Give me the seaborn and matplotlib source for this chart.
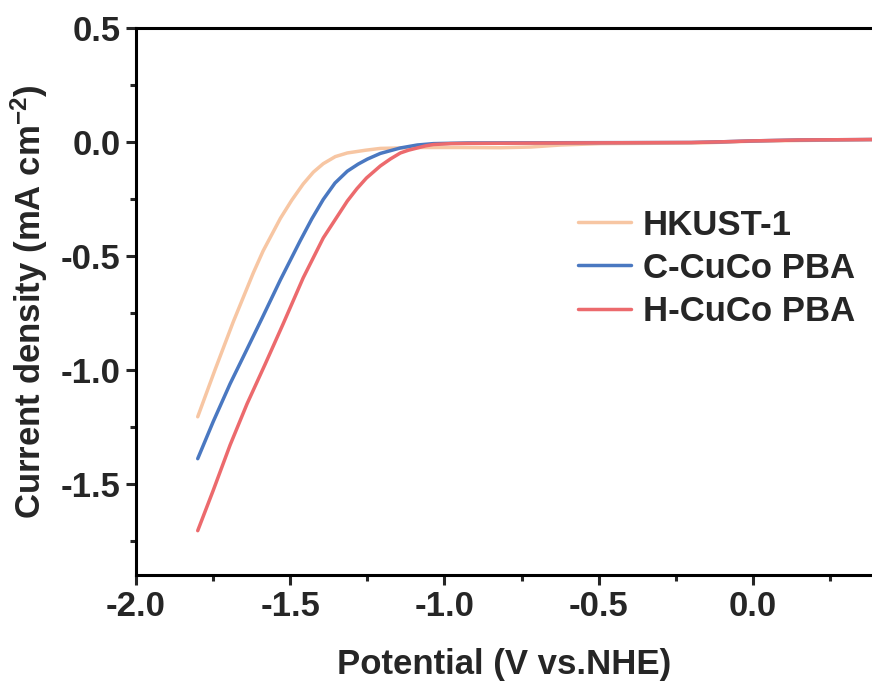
import matplotlib
matplotlib.use("Agg")
import matplotlib.pyplot as plt
from matplotlib.ticker import MultipleLocator, FormatStrFormatter
import seaborn as sns
import pandas as pd

hkust_x = [-1.800, -1.744, -1.685, -1.620, -1.588, -1.532, -1.495, -1.458, -1.425, -1.393, -1.354, -1.315,
           -1.256, -1.208, -1.078, -0.948, -0.818, -0.721, -0.623, -0.494, -0.169, 0.003, 0.386]
hkust_y = [-1.206, -1.000, -0.790, -0.575, -0.478, -0.335, -0.255, -0.184, -0.132, -0.095, -0.064, -0.048,
           -0.036, -0.028, -0.024, -0.024, -0.025, -0.022, -0.013, -0.007, -0.004, 0.004, 0.011]

ccuco_x = [-1.800, -1.750, -1.695, -1.643, -1.591, -1.532, -1.468, -1.430, -1.393, -1.355, -1.315, -1.280,
           -1.250, -1.208, -1.143, -1.088, -1.036, -0.925, -0.600, -0.200, -0.100, 0.000, 0.150, 0.386]
ccuco_y = [-1.390, -1.228, -1.061, -0.917, -0.772, -0.605, -0.434, -0.337, -0.252, -0.180, -0.128, -0.097,
           -0.075, -0.050, -0.026, -0.013, -0.007, -0.004, -0.003, -0.002, 0.001, 0.005, 0.009, 0.011]

hcuco_x = [-1.800, -1.750, -1.695, -1.640, -1.581, -1.523, -1.458, -1.393, -1.315, -1.284, -1.253,
           -1.208, -1.175, -1.143, -1.117, -1.088, -1.062, -1.036, -0.980, -0.925, -0.600, -0.200,
           -0.100, 0.000, 0.150, 0.386]
hcuco_y = [-1.706, -1.530, -1.330, -1.149, -0.974, -0.798, -0.596, -0.421, -0.259, -0.205, -0.158,
           -0.105, -0.074, -0.048, -0.036, -0.026, -0.017, -0.011, -0.007, -0.006, -0.004, -0.002,
           0.001, 0.005, 0.009, 0.011]

labels = ["HKUST-1", "C-CuCo PBA", "H-CuCo PBA"]
colors = ["#F7C6A3", "#4A78C1", "#EC6A6D"]

df = pd.concat([
    pd.DataFrame({"x": hkust_x, "y": hkust_y, "s": labels[0]}),
    pd.DataFrame({"x": ccuco_x, "y": ccuco_y, "s": labels[1]}),
    pd.DataFrame({"x": hcuco_x, "y": hcuco_y, "s": labels[2]}),
], ignore_index=True)

sns.set_style("ticks")
plt.rcParams["font.family"] = ["Liberation Sans", "DejaVu Sans"]
plt.rcParams["font.weight"] = "bold"
plt.rcParams["axes.labelweight"] = "bold"
plt.rcParams["mathtext.fontset"] = "custom"
plt.rcParams["mathtext.rm"] = "Liberation Sans:bold"
plt.rcParams["mathtext.bf"] = "Liberation Sans:bold"
plt.rcParams["mathtext.default"] = "bf"

FS = 25

fig = plt.figure(figsize=(8.72, 6.86), dpi=100)
ax = fig.add_axes([0.156, 0.162, 0.844, 0.797])

sns.lineplot(data=df, x="x", y="y", hue="s", palette=dict(zip(labels, colors)),
             sort=False, estimator=None, linewidth=2.5, ax=ax)
for ln in ax.get_lines():
    ln.set_solid_joinstyle("round")

ax.set_xlim(-2.0, 0.386)
ax.set_ylim(-1.9, 0.5)
ax.xaxis.set_major_locator(MultipleLocator(0.5))
ax.xaxis.set_minor_locator(MultipleLocator(0.25))
ax.yaxis.set_major_locator(MultipleLocator(0.5))
ax.yaxis.set_minor_locator(MultipleLocator(0.25))
ax.xaxis.set_major_formatter(FormatStrFormatter("%.1f"))
ax.yaxis.set_major_formatter(FormatStrFormatter("%.1f"))

for side in ["left", "bottom", "top"]:
    ax.spines[side].set_linewidth(2.2)
    ax.spines[side].set_color("black")
ax.spines["right"].set_visible(False)

ax.tick_params(which="major", direction="out", length=7, width=2.2, labelsize=FS, pad=4,
               top=False, right=False)
ax.tick_params(which="minor", direction="out", length=4, width=2.2, top=False, right=False)
for lab in ax.get_xticklabels() + ax.get_yticklabels():
    lab.set_fontweight("bold")

ax.set_xlabel("Potential (V vs.NHE)", fontsize=FS, fontweight="bold", labelpad=18)
ax.set_ylabel("Current density (mA cm$^{-2}$)", fontsize=FS, fontweight="bold", labelpad=8)

leg = ax.legend(loc="center left", bbox_to_anchor=(0.600, 0.561), frameon=False,
                borderpad=0, borderaxespad=0, handlelength=1.53, handletextpad=0.35,
                labelspacing=0.29, prop={"size": FS, "weight": "bold"})
for line in leg.get_lines():
    line.set_linewidth(2.5)

fig.savefig("out.png", dpi=100)
